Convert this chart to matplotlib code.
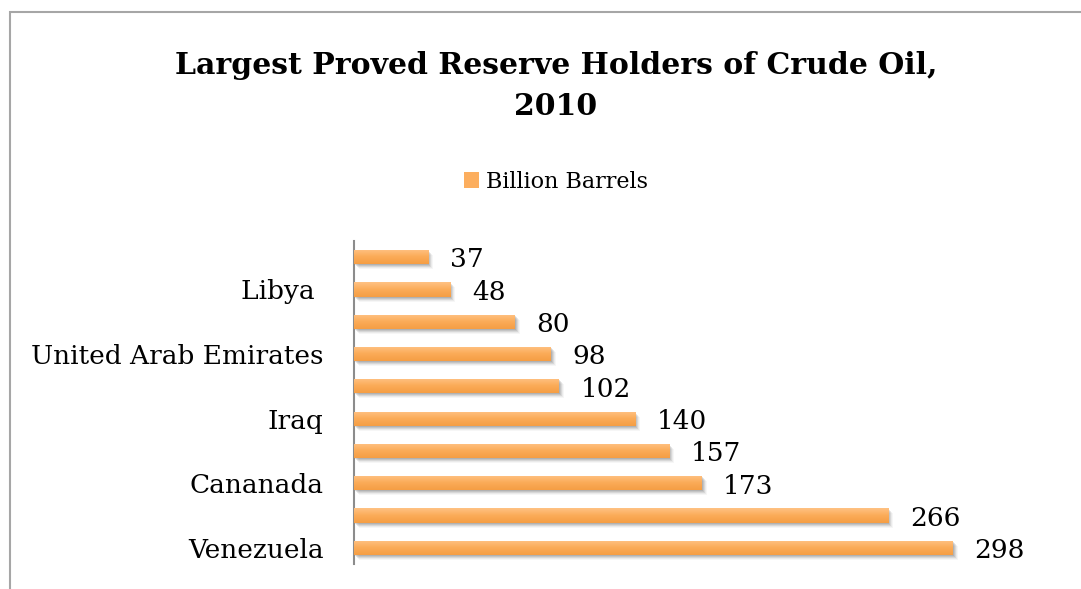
import matplotlib
matplotlib.use("Agg")
import matplotlib.pyplot as plt
import numpy as np
from matplotlib.transforms import offset_copy
from matplotlib.patches import Rectangle, Patch
from matplotlib.colors import LinearSegmentedColormap

plt.rcParams['font.family'] = ['DejaVu Serif']

countries = ["Venezuela", "Saudi Arabia", "Cananada", "Iran", "Iraq",
             "Kuwait", "United Arab Emirates", "Russia", "Libya ", "Nigeria"]
reserves = [298, 266, 173, 157, 140, 102, 98, 80, 48, 37]
series_name = "Billion Barrels"
title = "Largest Proved Reserve Holders of Crude Oil,\n2010"

W, H = 1081, 589
fig = plt.figure(figsize=(W / 100, H / 100), dpi=100)

# outer chart frame (top and left edges show)
fig.patches.append(Rectangle((10 / W, -0.05), 1.2, 1 - 12 / H + 0.05,
                             transform=fig.transFigure, fill=False,
                             edgecolor="#a6a6a6", linewidth=1.5))

ax = fig.add_axes([354 / W, 25 / H, 643 / W, 323 / H])
ypos = np.arange(len(countries))
bar_h = 0.44

# soft drop shadow
for dx, dy, a in [(1, -1, 0.18), (2, -2, 0.15), (3, -3, 0.12), (4, -4, 0.08),
                  (5, -5, 0.05)]:
    tr = offset_copy(ax.transData, fig=fig, x=dx, y=dy, units='dots')
    ax.barh(ypos, reserves, height=bar_h, color="#5a5a5a", alpha=a,
            transform=tr, zorder=1, linewidth=0)

bars = ax.barh(ypos, reserves, height=bar_h, color="#fbab58", zorder=2,
               linewidth=0)

# vertical gradient inside each bar
cmap = LinearSegmentedColormap.from_list(
    "orange", ["#f59e44", "#fbab58", "#ffc283"])
grad = np.linspace(0, 1, 64).reshape(-1, 1)
for b, y, v in zip(bars, ypos, reserves):
    im = ax.imshow(grad, extent=[0, v, y - bar_h / 2, y + bar_h / 2],
                   origin="lower", aspect="auto", cmap=cmap, zorder=3)
    im.set_clip_path(b)

for y, v in zip(ypos, reserves):
    ax.annotate(str(v), (v, y), xytext=(15.5, -2), textcoords="offset points",
                ha="left", va="center", fontsize=19, color="#000000")

ax.set_xlim(0, 320)
ax.set_ylim(-0.5, len(countries) - 0.5)
ax.set_yticks(ypos)
ax.set_yticklabels([c if i % 2 == 0 else "" for i, c in enumerate(countries)],
                   fontsize=19)
ax.tick_params(axis="y", length=0, pad=22)
ax.set_xticks([])
for s in ["top", "right", "bottom"]:
    ax.spines[s].set_visible(False)
ax.spines["left"].set_color("#8c8c8c")
ax.spines["left"].set_linewidth(1.5)

fig.text(556 / W, 1 - 86 / H, title, ha="center", va="center",
         fontsize=21.5, fontweight="bold", linespacing=1.55)

fig.legend(handles=[Patch(facecolor="#fcae5e", edgecolor="none")],
           labels=[series_name], loc="center",
           bbox_to_anchor=(556 / W, 1 - 182 / H), frameon=False,
           fontsize=16, handlelength=0.7, handleheight=0.7, handletextpad=0.3)

fig.savefig("out.png", dpi=100)
